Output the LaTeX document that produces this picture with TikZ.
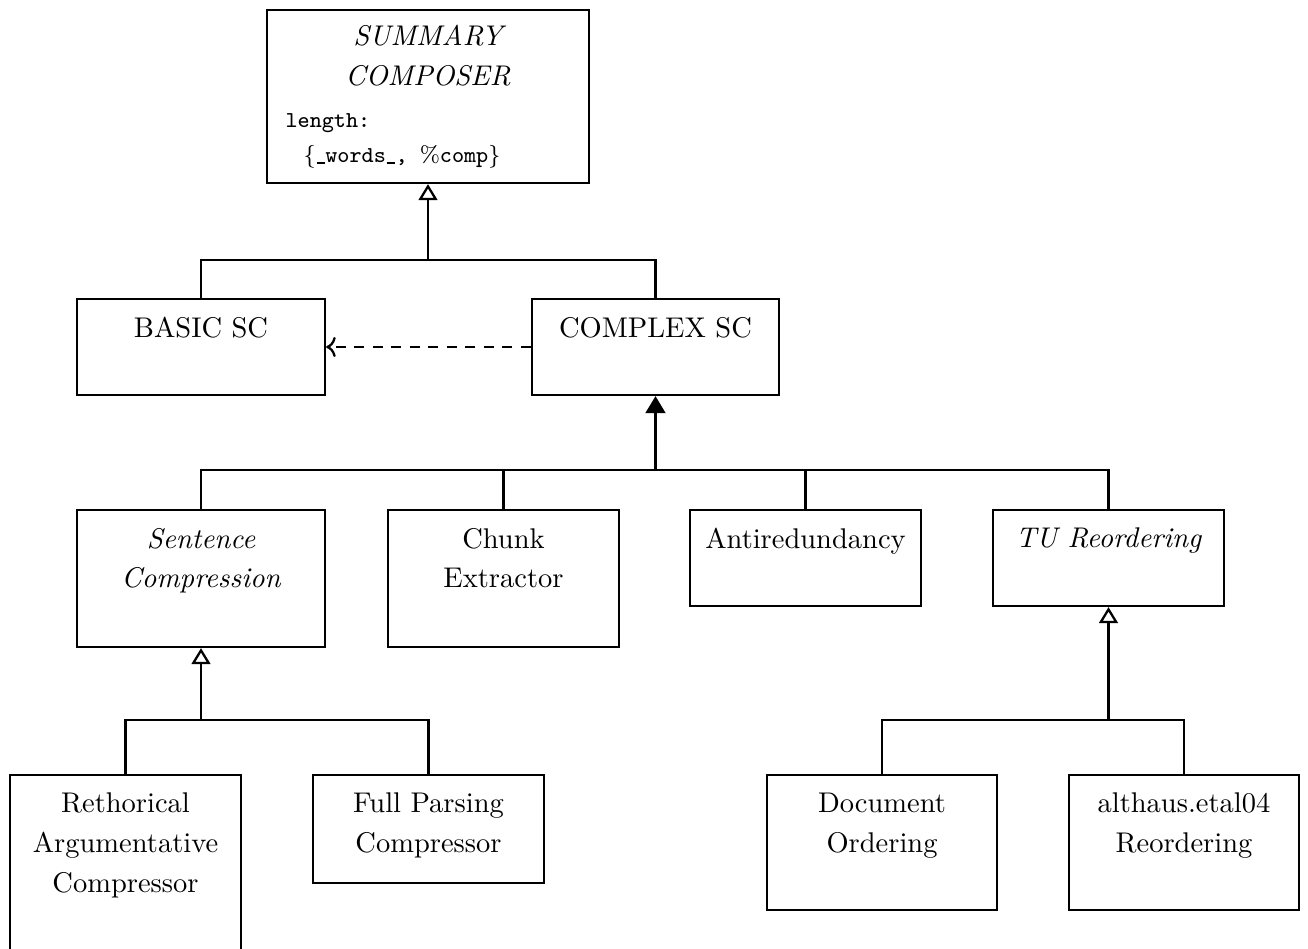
\documentclass[tikz,border=0pt]{standalone}
\usepackage{fontspec}
\usetikzlibrary{arrows.meta,fit,calc}
\newdimen\pxu
\pxu=0.351pt
\newcommand\lowdash{\kern0.3pt\rule[-0.2pt]{2.8pt}{0.45pt}\kern0.3pt}
\tikzset{
  box/.style={draw, line width=0.8pt, inner sep=0pt},
  lbl/.style={anchor=north, inner sep=0pt, align=center, font=\fontsize{10}{14}\selectfont},
  conn/.style={line width=0.8pt},
  inherit/.style={conn, -{Triangle[open, length=5.6pt, width=6.6pt]}},
  compose/.style={conn, -{Triangle[length=6pt, width=7pt]}},
  uses/.style={conn, dashed, dash pattern=on 3.5pt off 3pt, ->},
}
\begin{document}
\begin{tikzpicture}[x=\pxu, y=-\pxu]
\clip (0,0) rectangle (1308,949);

% root class
\node[box, fit={(267,10) (589,183)}] (sc) {};
\node[lbl, font=\fontsize{10}{14}\selectfont\itshape] (sctitle) at ($(sc.north)+(0,15.5)$) {SUMMARY\\COMPOSER};
\node[anchor=base west, inner sep=0pt, font=\fontsize{8}{10}\selectfont\ttfamily] (scattr) at (285,128) {length:};
\node[anchor=base west, inner sep=0pt, font=\fontsize{8}{10}\selectfont] (scval) at (303,163)
  {\{\lowdash{\ttfamily words}\lowdash{\ttfamily , }\%{\ttfamily comp}\}};

% second level
\node[box, fit={(77,299) (325,395)}] (bs) {};
\node[lbl] (bsl) at ($(bs.north)+(0,18.5)$) {BASIC SC};
\node[box, fit={(532,299) (779,395)}] (cs) {};
\node[lbl] (csl) at ($(cs.north)+(0,18.5)$) {COMPLEX SC};

% third level
\node[box, fit={(77,510) (325,647)}] (sent) {};
\node[lbl, font=\fontsize{10}{14}\selectfont\itshape] (sentl) at ($(sent.north)+(0,18.5)$) {Sentence\\Compression};
\node[box, fit={(388,510) (619,647)}] (chunk) {};
\node[lbl] (chunkl) at ($(chunk.north)+(0,18.5)$) {Chunk\\Extractor};
\node[box, fit={(690,510) (921,606)}] (anti) {};
\node[lbl] (antil) at ($(anti.north)+(0,18.5)$) {Antiredundancy};
\node[box, fit={(993,510) (1224,606)}] (tu) {};
\node[lbl, font=\fontsize{10}{14}\selectfont\itshape] (tul) at ($(tu.north)+(0,18.5)$) {TU Reordering};

% fourth level
\node[box, fit={(10,775) (241,965)}] (rac) {};
\node[lbl] (racl) at ($(rac.north)+(0,18.5)$) {Rethorical\\Argumentative\\Compressor};
\node[box, fit={(313,775) (544,883)}] (fpc) {};
\node[lbl] (fpcl) at ($(fpc.north)+(0,18.5)$) {Full Parsing\\Compressor};
\node[box, fit={(767,775) (997,910)}] (doc) {};
\node[lbl] (docl) at ($(doc.north)+(0,18.5)$) {Document\\Ordering};
\node[box, fit={(1069,775) (1299,910)}] (alt) {};
\node[lbl] (altl) at ($(alt.north)+(0,18.5)$) {althaus.etal04\\Reordering};

% junction points of the hierarchy lines
\coordinate (j1) at (428,260);
\coordinate (j2) at (655.5,470);
\coordinate (j3) at (201,720);
\coordinate (j4) at (1108.5,720);

% generalisation of the root
\draw[conn] (bs.north) |- (j1) -| (cs.north);
\draw[inherit] (j1) -- (sc.south);

% composition of the complex composer
\draw[conn] (sent.north) |- (j2) -| (tu.north);
\draw[conn] (chunk.north) -- (chunk.north |- j2);
\draw[conn] (anti.north) -- (anti.north |- j2);
\draw[compose] (j2) -- (cs.south);

% dependency between composers
\draw[uses] (cs.west |- 0,347) -- (bs.east |- 0,347);

% sentence compression variants
\draw[conn] (rac.north) |- (j3) -| (fpc.north);
\draw[inherit] (j3) -- (sent.south);

% reordering variants
\draw[conn] (doc.north) |- (j4) -| (alt.north);
\draw[inherit] (j4) -- (tu.south);
\end{tikzpicture}
\end{document}
